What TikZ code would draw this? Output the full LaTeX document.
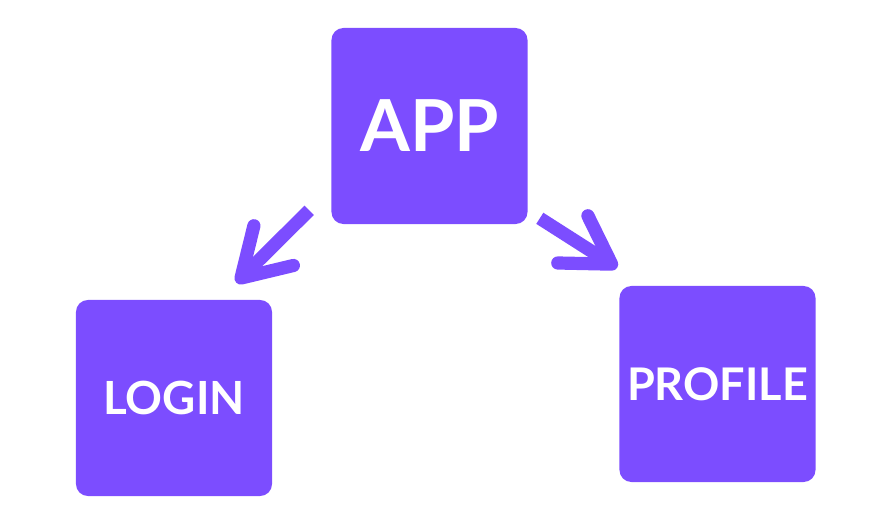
\documentclass[tikz,border=0pt]{standalone}
\usepackage{fontspec}
\setmainfont{Lato}
\usetikzlibrary{arrows.meta,positioning}
\definecolor{violet}{RGB}{124,77,255}

\begin{document}
\begin{tikzpicture}[x=0.025cm, y=-0.025cm]
    % Стилі
    \tikzstyle{screen} = [rectangle, fill=violet, rounded corners=0.3cm, minimum width=4.9cm, minimum height=4.9cm, inner sep=0pt, text=white, font=\bfseries]
    \tikzstyle{flow} = [draw=violet, line width=0.33cm, line cap=butt, -{Straight Barb[length=1.15cm, width=1.4cm, line width=0.33cm, line cap=round, line join=round]}]

    \useasboundingbox (0,0) rectangle (880,523);

    % Екрани
    \node[screen, font=\bfseries\fontsize{51}{51}\selectfont] (app) at (429.5,126) {APP};
    \node[screen, font=\bfseries\fontsize{32.5}{32.5}\selectfont] (login) at (174,398) {LOGIN};
    \node[screen, font=\bfseries\fontsize{32}{32}\selectfont] (profile) at (717.5,384) {PROFILE};

    % Переходи
    \draw[flow] ([shift={(-22,-14)}]app.south west) -- ([shift={(-36,-17)}]login.north east);
    \draw[flow] ([shift={(12,-6)}]app.south east) -- ([shift={(-2,-18)}]profile.north west);
\end{tikzpicture}
\end{document}
